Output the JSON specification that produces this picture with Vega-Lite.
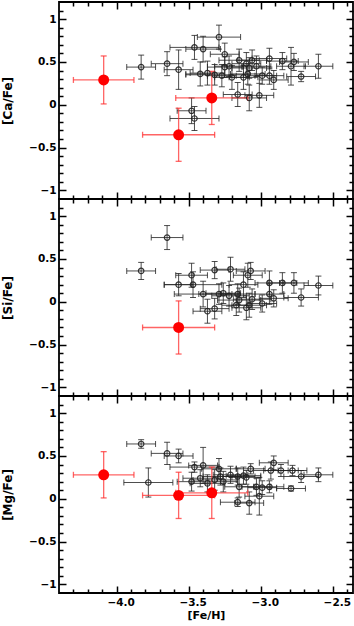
{
"$schema":"https://vega.github.io/schema/vega-lite/v6.json",
"padding":{"left":0,"top":0,"right":0,"bottom":0},
"spacing":0,
"bounds":"flush",
"config":{"view":{"stroke":"#000","strokeWidth":1.8},
 "axis":{"domain":false,"grid":false,"tickColor":"#000","tickWidth":1.5,"labelFont":"DejaVu Sans","labelFontWeight":"bold","labelFontSize":10.5,"labelColor":"#000","titleFont":"DejaVu Sans","titleFontWeight":"bold","titleColor":"#000","labelPadding":10,"minExtent":0}},
"datasets":{
"ca":[
{"grp":"b","feh":-3.83,"fe":0.10,"val":0.44,"ve":0.14},
{"grp":"b","feh":-3.65,"fe":0.11,"val":0.48,"ve":0.14},
{"grp":"b","feh":-3.57,"fe":0.10,"val":0.41,"ve":0.23},
{"grp":"b","feh":-3.46,"fe":0.17,"val":0.67,"ve":0.14},
{"grp":"b","feh":-3.40,"fe":0.12,"val":0.65,"ve":0.15},
{"grp":"b","feh":-3.29,"fe":0.15,"val":0.79,"ve":0.14},
{"grp":"b","feh":-3.25,"fe":0.10,"val":0.59,"ve":0.13},
{"grp":"b","feh":-3.42,"fe":0.10,"val":0.36,"ve":0.14},
{"grp":"b","feh":-3.37,"fe":0.12,"val":0.37,"ve":0.14},
{"grp":"b","feh":-3.32,"fe":0.20,"val":0.35,"ve":0.12},
{"grp":"b","feh":-3.27,"fe":0.10,"val":0.34,"ve":0.13},
{"grp":"b","feh":-3.25,"fe":0.12,"val":0.44,"ve":0.12},
{"grp":"b","feh":-3.22,"fe":0.10,"val":0.45,"ve":0.12},
{"grp":"b","feh":-3.20,"fe":0.12,"val":0.32,"ve":0.14},
{"grp":"b","feh":-3.15,"fe":0.14,"val":0.52,"ve":0.13},
{"grp":"b","feh":-3.12,"fe":0.10,"val":0.32,"ve":0.14},
{"grp":"b","feh":-3.10,"fe":0.10,"val":0.48,"ve":0.13},
{"grp":"b","feh":-3.09,"fe":0.12,"val":0.36,"ve":0.12},
{"grp":"b","feh":-3.08,"fe":0.12,"val":0.43,"ve":0.12},
{"grp":"b","feh":-3.06,"fe":0.10,"val":0.52,"ve":0.12},
{"grp":"b","feh":-3.03,"fe":0.10,"val":0.45,"ve":0.12},
{"grp":"b","feh":-2.99,"fe":0.10,"val":0.34,"ve":0.10},
{"grp":"b","feh":-2.94,"fe":0.12,"val":0.54,"ve":0.12},
{"grp":"b","feh":-2.94,"fe":0.10,"val":0.34,"ve":0.10},
{"grp":"b","feh":-2.91,"fe":0.10,"val":0.29,"ve":0.11},
{"grp":"b","feh":-2.85,"fe":0.11,"val":0.51,"ve":0.10},
{"grp":"b","feh":-2.79,"fe":0.10,"val":0.45,"ve":0.22},
{"grp":"b","feh":-2.77,"fe":0.10,"val":0.50,"ve":0.10},
{"grp":"b","feh":-2.72,"fe":0.10,"val":0.33,"ve":0.06},
{"grp":"b","feh":-2.60,"fe":0.10,"val":0.45,"ve":0.14},
{"grp":"b","feh":-3.16,"fe":0.10,"val":0.12,"ve":0.14},
{"grp":"b","feh":-3.08,"fe":0.12,"val":0.08,"ve":0.15},
{"grp":"b","feh":-3.01,"fe":0.10,"val":0.11,"ve":0.14},
{"grp":"b","feh":-3.48,"fe":0.10,"val":-0.07,"ve":0.15},
{"grp":"b","feh":-3.46,"fe":0.17,"val":-0.16,"ve":0.14},
{"grp":"r","feh":-4.09,"fe":0.21,"val":0.29,"ve":0.28},
{"grp":"r","feh":-3.57,"fe":0.25,"val":-0.35,"ve":0.31},
{"grp":"r","feh":-3.34,"fe":0.25,"val":0.08,"ve":0.31}
],
"si":[
{"grp":"b","feh":-3.65,"fe":0.11,"val":0.75,"ve":0.14},
{"grp":"b","feh":-3.83,"fe":0.10,"val":0.36,"ve":0.10},
{"grp":"b","feh":-3.57,"fe":0.10,"val":0.20,"ve":0.13},
{"grp":"b","feh":-3.48,"fe":0.11,"val":0.31,"ve":0.14},
{"grp":"b","feh":-3.47,"fe":0.20,"val":0.20,"ve":0.15},
{"grp":"b","feh":-3.40,"fe":0.20,"val":0.09,"ve":0.15},
{"grp":"b","feh":-3.37,"fe":0.10,"val":-0.11,"ve":0.14},
{"grp":"b","feh":-3.32,"fe":0.10,"val":-0.08,"ve":0.12},
{"grp":"b","feh":-3.32,"fe":0.10,"val":0.37,"ve":0.10},
{"grp":"b","feh":-3.21,"fe":0.10,"val":0.38,"ve":0.14},
{"grp":"b","feh":-3.12,"fe":0.10,"val":0.20,"ve":0.15},
{"grp":"b","feh":-3.09,"fe":0.10,"val":0.31,"ve":0.14},
{"grp":"b","feh":-3.07,"fe":0.10,"val":0.36,"ve":0.10},
{"grp":"b","feh":-3.29,"fe":0.14,"val":0.09,"ve":0.12},
{"grp":"b","feh":-3.26,"fe":0.12,"val":0.10,"ve":0.12},
{"grp":"b","feh":-3.22,"fe":0.12,"val":0.07,"ve":0.12},
{"grp":"b","feh":-3.16,"fe":0.12,"val":0.09,"ve":0.12},
{"grp":"b","feh":-3.15,"fe":0.15,"val":0.02,"ve":0.14},
{"grp":"b","feh":-3.17,"fe":0.10,"val":-0.04,"ve":0.12},
{"grp":"b","feh":-3.10,"fe":0.10,"val":-0.07,"ve":0.14},
{"grp":"b","feh":-3.08,"fe":0.12,"val":-0.04,"ve":0.14},
{"grp":"b","feh":-3.06,"fe":0.13,"val":0.03,"ve":0.12},
{"grp":"b","feh":-2.99,"fe":0.10,"val":-0.02,"ve":0.10},
{"grp":"b","feh":-2.94,"fe":0.10,"val":0.09,"ve":0.12},
{"grp":"b","feh":-2.94,"fe":0.10,"val":0.22,"ve":0.14},
{"grp":"b","feh":-2.91,"fe":0.10,"val":0.04,"ve":0.10},
{"grp":"b","feh":-2.85,"fe":0.10,"val":0.22,"ve":0.12},
{"grp":"b","feh":-2.77,"fe":0.10,"val":0.22,"ve":0.12},
{"grp":"b","feh":-2.72,"fe":0.12,"val":0.05,"ve":0.10},
{"grp":"b","feh":-2.60,"fe":0.10,"val":0.19,"ve":0.11},
{"grp":"r","feh":-3.57,"fe":0.25,"val":-0.30,"ve":0.31}
],
"mg":[
{"grp":"b","feh":-3.83,"fe":0.10,"val":0.64,"ve":0.05},
{"grp":"b","feh":-3.65,"fe":0.11,"val":0.53,"ve":0.13},
{"grp":"b","feh":-3.57,"fe":0.10,"val":0.50,"ve":0.08},
{"grp":"b","feh":-3.78,"fe":0.17,"val":0.19,"ve":0.17},
{"grp":"b","feh":-3.46,"fe":0.17,"val":0.37,"ve":0.06},
{"grp":"b","feh":-3.40,"fe":0.10,"val":0.39,"ve":0.21},
{"grp":"b","feh":-3.48,"fe":0.10,"val":0.20,"ve":0.11},
{"grp":"b","feh":-3.42,"fe":0.12,"val":0.24,"ve":0.10},
{"grp":"b","feh":-3.37,"fe":0.12,"val":0.18,"ve":0.10},
{"grp":"b","feh":-3.32,"fe":0.15,"val":0.22,"ve":0.12},
{"grp":"b","feh":-3.29,"fe":0.12,"val":0.35,"ve":0.12},
{"grp":"b","feh":-3.28,"fe":0.12,"val":0.26,"ve":0.10},
{"grp":"b","feh":-3.26,"fe":0.10,"val":0.20,"ve":0.12},
{"grp":"b","feh":-3.21,"fe":0.12,"val":0.28,"ve":0.10},
{"grp":"b","feh":-3.16,"fe":0.12,"val":0.26,"ve":0.10},
{"grp":"b","feh":-3.12,"fe":0.12,"val":0.27,"ve":0.10},
{"grp":"b","feh":-3.10,"fe":0.10,"val":0.25,"ve":0.08},
{"grp":"b","feh":-3.07,"fe":0.10,"val":0.35,"ve":0.06},
{"grp":"b","feh":-3.15,"fe":0.10,"val":0.14,"ve":0.12},
{"grp":"b","feh":-3.16,"fe":0.12,"val":-0.04,"ve":0.05},
{"grp":"b","feh":-3.08,"fe":0.10,"val":-0.05,"ve":0.13},
{"grp":"b","feh":-3.03,"fe":0.10,"val":0.14,"ve":0.10},
{"grp":"b","feh":-3.01,"fe":0.10,"val":0.03,"ve":0.22},
{"grp":"b","feh":-2.99,"fe":0.10,"val":0.13,"ve":0.08},
{"grp":"b","feh":-2.94,"fe":0.10,"val":0.14,"ve":0.07},
{"grp":"b","feh":-2.93,"fe":0.12,"val":0.33,"ve":0.10},
{"grp":"b","feh":-2.91,"fe":0.10,"val":0.42,"ve":0.08},
{"grp":"b","feh":-2.86,"fe":0.12,"val":0.33,"ve":0.07},
{"grp":"b","feh":-2.78,"fe":0.10,"val":0.33,"ve":0.06},
{"grp":"b","feh":-2.79,"fe":0.10,"val":0.12,"ve":0.03},
{"grp":"b","feh":-2.72,"fe":0.12,"val":0.26,"ve":0.07},
{"grp":"b","feh":-2.60,"fe":0.10,"val":0.28,"ve":0.08},
{"grp":"r","feh":-4.09,"fe":0.21,"val":0.28,"ve":0.27},
{"grp":"r","feh":-3.57,"fe":0.25,"val":0.04,"ve":0.27},
{"grp":"r","feh":-3.34,"fe":0.25,"val":0.07,"ve":0.30}
]},
"vconcat":[
{"width":294,"height":197,"data":{"name":"ca"},
 "resolve":{"axis":{"x":"independent","y":"independent"}},
 "layer":[
  {"transform":[{"filter":"datum.grp=='b'"}],"mark":{"type":"errorbar","ticks":{"size":6},"color":"#222","opacity":0.8,"thickness":1},
   "encoding":{"x":{"field":"feh","type":"quantitative","scale":{"domain":[-4.4,-2.36],"nice":false,"zero":false},
      "axis":{"orient":"bottom","values":[-4.3,-4.2,-4.1,-4.0,-3.9,-3.8,-3.7,-3.6,-3.5,-3.4,-3.3,-3.2,-3.1,-3.0,-2.9,-2.8,-2.7,-2.6,-2.5,-2.4],"tickSize":{"condition":{"test":"abs(datum.value*2-round(datum.value*2))<0.01","value":-7},"value":-4},"labels":false,"title":null}},
     "xError":{"field":"fe"},
     "y":{"field":"val","type":"quantitative","scale":{"domain":[-1.1,1.2],"nice":false,"zero":false},
      "axis":{"orient":"left","values":[-1,-0.9,-0.8,-0.7,-0.6,-0.5,-0.4,-0.3,-0.2,-0.1,0,0.1,0.2,0.3,0.4,0.5,0.6,0.7,0.8,0.9,1,1.1],"tickSize":{"condition":{"test":"abs(datum.value*2-round(datum.value*2))<0.01","value":-7},"value":-4},"labelExpr":"abs(datum.value*2-round(datum.value*2))<0.01 ? format(datum.value,'~g') : ''","title":"[Ca/Fe]","titleFontSize":12,"titlePadding":14}}}},
  {"transform":[{"filter":"datum.grp=='b'"}],"mark":{"type":"errorbar","ticks":{"size":6},"color":"#222","opacity":0.8,"thickness":1},
   "encoding":{"x":{"field":"feh","type":"quantitative","scale":{"domain":[-4.4,-2.36],"nice":false,"zero":false},
      "axis":{"orient":"top","values":[-4.3,-4.2,-4.1,-4.0,-3.9,-3.8,-3.7,-3.6,-3.5,-3.4,-3.3,-3.2,-3.1,-3.0,-2.9,-2.8,-2.7,-2.6,-2.5,-2.4],"tickSize":{"condition":{"test":"abs(datum.value*2-round(datum.value*2))<0.01","value":-7},"value":-4},"labels":false,"title":null}},
     "y":{"field":"val","type":"quantitative","scale":{"domain":[-1.1,1.2],"nice":false,"zero":false},
      "axis":{"orient":"right","values":[-1,-0.9,-0.8,-0.7,-0.6,-0.5,-0.4,-0.3,-0.2,-0.1,0,0.1,0.2,0.3,0.4,0.5,0.6,0.7,0.8,0.9,1,1.1],"tickSize":{"condition":{"test":"abs(datum.value*2-round(datum.value*2))<0.01","value":-7},"value":-4},"labels":false,"title":null}},
     "yError":{"field":"ve"}}},
  {"transform":[{"filter":"datum.grp=='r'"}],"mark":{"type":"errorbar","ticks":{"size":6},"color":"#ff3030","opacity":0.75,"thickness":1.3},
   "encoding":{"x":{"field":"feh","type":"quantitative","scale":{"domain":[-4.4,-2.36],"nice":false,"zero":false},"axis":null},"xError":{"field":"fe"},
     "y":{"field":"val","type":"quantitative","scale":{"domain":[-1.1,1.2],"nice":false,"zero":false},"axis":null}}},
  {"transform":[{"filter":"datum.grp=='r'"}],"mark":{"type":"errorbar","ticks":{"size":6},"color":"#ff3030","opacity":0.75,"thickness":1.3},
   "encoding":{"x":{"field":"feh","type":"quantitative","scale":{"domain":[-4.4,-2.36],"nice":false,"zero":false},"axis":null},
     "y":{"field":"val","type":"quantitative","scale":{"domain":[-1.1,1.2],"nice":false,"zero":false},"axis":null},"yError":{"field":"ve"}}},
  {"transform":[{"filter":"datum.grp=='b'"}],"mark":{"type":"point","filled":false,"size":30,"stroke":"#222","strokeWidth":1.2,"opacity":0.9},
   "encoding":{"x":{"field":"feh","type":"quantitative","scale":{"domain":[-4.4,-2.36],"nice":false,"zero":false},"axis":null},
     "y":{"field":"val","type":"quantitative","scale":{"domain":[-1.1,1.2],"nice":false,"zero":false},"axis":null}}},
  {"transform":[{"filter":"datum.grp=='r'"}],"mark":{"type":"circle","size":120,"color":"#ff0000","opacity":1},
   "encoding":{"x":{"field":"feh","type":"quantitative","scale":{"domain":[-4.4,-2.36],"nice":false,"zero":false},"axis":null},
     "y":{"field":"val","type":"quantitative","scale":{"domain":[-1.1,1.2],"nice":false,"zero":false},"axis":null}}}
 ]},
{"width":294,"height":197,"data":{"name":"si"},
 "resolve":{"axis":{"x":"independent","y":"independent"}},
 "layer":[
  {"transform":[{"filter":"datum.grp=='b'"}],"mark":{"type":"errorbar","ticks":{"size":6},"color":"#222","opacity":0.8,"thickness":1},
   "encoding":{"x":{"field":"feh","type":"quantitative","scale":{"domain":[-4.4,-2.36],"nice":false,"zero":false},
      "axis":{"orient":"bottom","values":[-4.3,-4.2,-4.1,-4.0,-3.9,-3.8,-3.7,-3.6,-3.5,-3.4,-3.3,-3.2,-3.1,-3.0,-2.9,-2.8,-2.7,-2.6,-2.5,-2.4],"tickSize":{"condition":{"test":"abs(datum.value*2-round(datum.value*2))<0.01","value":-7},"value":-4},"labels":false,"title":null}},
     "xError":{"field":"fe"},
     "y":{"field":"val","type":"quantitative","scale":{"domain":[-1.1,1.2],"nice":false,"zero":false},
      "axis":{"orient":"left","values":[-1,-0.9,-0.8,-0.7,-0.6,-0.5,-0.4,-0.3,-0.2,-0.1,0,0.1,0.2,0.3,0.4,0.5,0.6,0.7,0.8,0.9,1,1.1],"tickSize":{"condition":{"test":"abs(datum.value*2-round(datum.value*2))<0.01","value":-7},"value":-4},"labelExpr":"abs(datum.value*2-round(datum.value*2))<0.01 ? format(datum.value,'~g') : ''","title":"[Si/Fe]","titleFontSize":12,"titlePadding":14}}}},
  {"transform":[{"filter":"datum.grp=='b'"}],"mark":{"type":"errorbar","ticks":{"size":6},"color":"#222","opacity":0.8,"thickness":1},
   "encoding":{"x":{"field":"feh","type":"quantitative","scale":{"domain":[-4.4,-2.36],"nice":false,"zero":false},
      "axis":{"orient":"top","values":[-4.3,-4.2,-4.1,-4.0,-3.9,-3.8,-3.7,-3.6,-3.5,-3.4,-3.3,-3.2,-3.1,-3.0,-2.9,-2.8,-2.7,-2.6,-2.5,-2.4],"tickSize":{"condition":{"test":"abs(datum.value*2-round(datum.value*2))<0.01","value":-7},"value":-4},"labels":false,"title":null}},
     "y":{"field":"val","type":"quantitative","scale":{"domain":[-1.1,1.2],"nice":false,"zero":false},
      "axis":{"orient":"right","values":[-1,-0.9,-0.8,-0.7,-0.6,-0.5,-0.4,-0.3,-0.2,-0.1,0,0.1,0.2,0.3,0.4,0.5,0.6,0.7,0.8,0.9,1,1.1],"tickSize":{"condition":{"test":"abs(datum.value*2-round(datum.value*2))<0.01","value":-7},"value":-4},"labels":false,"title":null}},
     "yError":{"field":"ve"}}},
  {"transform":[{"filter":"datum.grp=='r'"}],"mark":{"type":"errorbar","ticks":{"size":6},"color":"#ff3030","opacity":0.75,"thickness":1.3},
   "encoding":{"x":{"field":"feh","type":"quantitative","scale":{"domain":[-4.4,-2.36],"nice":false,"zero":false},"axis":null},"xError":{"field":"fe"},
     "y":{"field":"val","type":"quantitative","scale":{"domain":[-1.1,1.2],"nice":false,"zero":false},"axis":null}}},
  {"transform":[{"filter":"datum.grp=='r'"}],"mark":{"type":"errorbar","ticks":{"size":6},"color":"#ff3030","opacity":0.75,"thickness":1.3},
   "encoding":{"x":{"field":"feh","type":"quantitative","scale":{"domain":[-4.4,-2.36],"nice":false,"zero":false},"axis":null},
     "y":{"field":"val","type":"quantitative","scale":{"domain":[-1.1,1.2],"nice":false,"zero":false},"axis":null},"yError":{"field":"ve"}}},
  {"transform":[{"filter":"datum.grp=='b'"}],"mark":{"type":"point","filled":false,"size":30,"stroke":"#222","strokeWidth":1.2,"opacity":0.9},
   "encoding":{"x":{"field":"feh","type":"quantitative","scale":{"domain":[-4.4,-2.36],"nice":false,"zero":false},"axis":null},
     "y":{"field":"val","type":"quantitative","scale":{"domain":[-1.1,1.2],"nice":false,"zero":false},"axis":null}}},
  {"transform":[{"filter":"datum.grp=='r'"}],"mark":{"type":"circle","size":120,"color":"#ff0000","opacity":1},
   "encoding":{"x":{"field":"feh","type":"quantitative","scale":{"domain":[-4.4,-2.36],"nice":false,"zero":false},"axis":null},
     "y":{"field":"val","type":"quantitative","scale":{"domain":[-1.1,1.2],"nice":false,"zero":false},"axis":null}}}
 ]},
{"width":294,"height":197,"data":{"name":"mg"},
 "resolve":{"axis":{"x":"independent","y":"independent"}},
 "layer":[
  {"transform":[{"filter":"datum.grp=='b'"}],"mark":{"type":"errorbar","ticks":{"size":6},"color":"#222","opacity":0.8,"thickness":1},
   "encoding":{"x":{"field":"feh","type":"quantitative","scale":{"domain":[-4.4,-2.36],"nice":false,"zero":false},
      "axis":{"orient":"bottom","values":[-4.3,-4.2,-4.1,-4.0,-3.9,-3.8,-3.7,-3.6,-3.5,-3.4,-3.3,-3.2,-3.1,-3.0,-2.9,-2.8,-2.7,-2.6,-2.5,-2.4],"tickSize":{"condition":{"test":"abs(datum.value*2-round(datum.value*2))<0.01","value":-7},"value":-4},"labelExpr":"abs(datum.value*2-round(datum.value*2))<0.01 ? format(datum.value,'.1f') : ''","labelOffset":4,"labelPadding":11,"title":"[Fe/H]","titleFontSize":11,"titlePadding":2}},
     "xError":{"field":"fe"},
     "y":{"field":"val","type":"quantitative","scale":{"domain":[-1.1,1.2],"nice":false,"zero":false},
      "axis":{"orient":"left","values":[-1,-0.9,-0.8,-0.7,-0.6,-0.5,-0.4,-0.3,-0.2,-0.1,0,0.1,0.2,0.3,0.4,0.5,0.6,0.7,0.8,0.9,1,1.1],"tickSize":{"condition":{"test":"abs(datum.value*2-round(datum.value*2))<0.01","value":-7},"value":-4},"labelExpr":"abs(datum.value*2-round(datum.value*2))<0.01 ? format(datum.value,'~g') : ''","title":"[Mg/Fe]","titleFontSize":12,"titlePadding":14}}}},
  {"transform":[{"filter":"datum.grp=='b'"}],"mark":{"type":"errorbar","ticks":{"size":6},"color":"#222","opacity":0.8,"thickness":1},
   "encoding":{"x":{"field":"feh","type":"quantitative","scale":{"domain":[-4.4,-2.36],"nice":false,"zero":false},
      "axis":{"orient":"top","values":[-4.3,-4.2,-4.1,-4.0,-3.9,-3.8,-3.7,-3.6,-3.5,-3.4,-3.3,-3.2,-3.1,-3.0,-2.9,-2.8,-2.7,-2.6,-2.5,-2.4],"tickSize":{"condition":{"test":"abs(datum.value*2-round(datum.value*2))<0.01","value":-7},"value":-4},"labels":false,"title":null}},
     "y":{"field":"val","type":"quantitative","scale":{"domain":[-1.1,1.2],"nice":false,"zero":false},
      "axis":{"orient":"right","values":[-1,-0.9,-0.8,-0.7,-0.6,-0.5,-0.4,-0.3,-0.2,-0.1,0,0.1,0.2,0.3,0.4,0.5,0.6,0.7,0.8,0.9,1,1.1],"tickSize":{"condition":{"test":"abs(datum.value*2-round(datum.value*2))<0.01","value":-7},"value":-4},"labels":false,"title":null}},
     "yError":{"field":"ve"}}},
  {"transform":[{"filter":"datum.grp=='r'"}],"mark":{"type":"errorbar","ticks":{"size":6},"color":"#ff3030","opacity":0.75,"thickness":1.3},
   "encoding":{"x":{"field":"feh","type":"quantitative","scale":{"domain":[-4.4,-2.36],"nice":false,"zero":false},"axis":null},"xError":{"field":"fe"},
     "y":{"field":"val","type":"quantitative","scale":{"domain":[-1.1,1.2],"nice":false,"zero":false},"axis":null}}},
  {"transform":[{"filter":"datum.grp=='r'"}],"mark":{"type":"errorbar","ticks":{"size":6},"color":"#ff3030","opacity":0.75,"thickness":1.3},
   "encoding":{"x":{"field":"feh","type":"quantitative","scale":{"domain":[-4.4,-2.36],"nice":false,"zero":false},"axis":null},
     "y":{"field":"val","type":"quantitative","scale":{"domain":[-1.1,1.2],"nice":false,"zero":false},"axis":null},"yError":{"field":"ve"}}},
  {"transform":[{"filter":"datum.grp=='b'"}],"mark":{"type":"point","filled":false,"size":30,"stroke":"#222","strokeWidth":1.2,"opacity":0.9},
   "encoding":{"x":{"field":"feh","type":"quantitative","scale":{"domain":[-4.4,-2.36],"nice":false,"zero":false},"axis":null},
     "y":{"field":"val","type":"quantitative","scale":{"domain":[-1.1,1.2],"nice":false,"zero":false},"axis":null}}},
  {"transform":[{"filter":"datum.grp=='r'"}],"mark":{"type":"circle","size":120,"color":"#ff0000","opacity":1},
   "encoding":{"x":{"field":"feh","type":"quantitative","scale":{"domain":[-4.4,-2.36],"nice":false,"zero":false},"axis":null},
     "y":{"field":"val","type":"quantitative","scale":{"domain":[-1.1,1.2],"nice":false,"zero":false},"axis":null}}}
 ]}
]
}
